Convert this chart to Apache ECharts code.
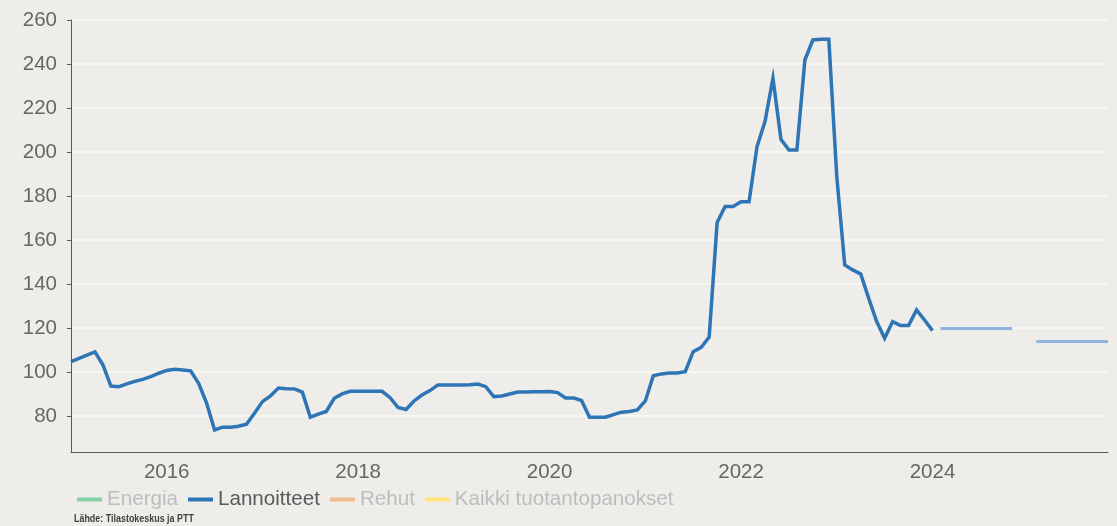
<!DOCTYPE html>
<html>
<head>
<meta charset="utf-8">
<script src="https://cdn.jsdelivr.net/npm/echarts@6/dist/echarts.min.js"></script>
<style>
  html, body { margin: 0; padding: 0; background: #eeedea; }
  #chart { width: 1117px; height: 526px; }
</style>
</head>
<body>
<div id="chart"></div>
<script>
// Monthly index values for "Lannoitteet", starting January 2015 (month index 0)
const startYear = 2015;
const lannoitteetValues = [
  104.7, 106.2, 107.6, 109.1, 103.2, 93.6, 93.3, 94.6, 95.7, 96.6, 97.9, 99.4,
  100.7, 101.2, 100.9, 100.5, 94.8, 85.8, 73.6, 74.9, 74.9, 75.3, 76.2, 81.2,
  86.5, 89.1, 92.7, 92.4, 92.3, 90.8, 79.4, 80.8, 82.0, 88.0, 90.0, 91.2,
  91.2, 91.2, 91.2, 91.2, 88.3, 83.8, 82.9, 86.8, 89.5, 91.5, 94.1, 94.1,
  94.1, 94.1, 94.2, 94.5, 93.3, 88.8, 89.1, 90.0, 90.9, 90.9, 91.0, 91.0,
  91.1, 90.6, 88.2, 88.2, 87.0, 79.4, 79.4, 79.4, 80.6, 81.7, 82.0, 82.7,
  86.8, 98.3, 99.1, 99.5, 99.5, 100.1, 109.2, 111.2, 115.8, 167.9, 175.2, 175.2,
  177.4, 177.4, 202.4, 213.8, 233.5, 205.8, 200.9, 200.9, 241.8, 250.9, 251.2, 251.2,
  188.8, 148.6, 146.4, 144.5, 133.5, 122.9, 115.3, 122.9, 121.1, 121.1, 128.2, 123.6,
  118.8
];
// Forecast segments (month index of first point, monthly values)
const forecast2024Start = 109;
const forecast2024Values = [119.7, 119.7, 119.7, 119.7, 119.7, 119.7, 119.7, 119.7, 119.7, 119.7];
const forecast2025Start = 121;
const forecast2025Values = [113.8, 113.8, 113.8, 113.8, 113.8, 113.8, 113.8, 113.8, 113.8, 113.8];

const yTicks = [80, 100, 120, 140, 160, 180, 200, 220, 240, 260];
const xTickYears = [2016, 2018, 2020, 2022, 2024];
const legendNames = ['Energia', 'Lannoitteet', 'Rehut', 'Kaikki tuotantopanokset'];

const toPairs = (start, arr) => arr.map((v, i) => [start + i, v]);
const yearToMonth = y => (y - startYear) * 12;

const chart = echarts.init(document.getElementById('chart'), null, { renderer: 'canvas' });
const fontFam = '"Liberation Sans", Arial, sans-serif';
const inactiveText = '#bdbdbd';

chart.setOption({
  backgroundColor: '#eeedea',
  animation: false,
  grid: { left: 71, right: 9, top: 20, bottom: 74, containLabel: false },
  xAxis: {
    type: 'value',
    min: 0,
    max: 130,
    axisLine: { show: true, lineStyle: { color: '#595959', width: 1 } },
    axisTick: { show: false },
    splitLine: { show: false },
    axisLabel: {
      customValues: xTickYears.map(yearToMonth),
      formatter: v => String(startYear + Math.round(v / 12)),
      color: '#666666',
      fontSize: 20.5,
      fontFamily: fontFam,
      margin: 10
    }
  },
  yAxis: {
    type: 'value',
    min: 63.6,
    max: 260,
    axisLine: { show: true, lineStyle: { color: '#595959', width: 1 } },
    axisTick: { show: true, length: 4, customValues: yTicks, lineStyle: { color: '#595959' } },
    splitLine: { show: true, lineStyle: { color: '#f8f8f6', width: 1.5 } },
    axisLabel: {
      customValues: yTicks,
      color: '#666666',
      fontSize: 20.5,
      fontFamily: fontFam,
      margin: 14
    }
  },
  legend: {
    left: 72,
    top: 484,
    itemWidth: 25,
    itemHeight: 4,
    itemGap: 10,
    icon: 'rect',
    selectedMode: false,
    textStyle: { fontSize: 20.6, fontFamily: fontFam, color: inactiveText },
    data: [
      { name: legendNames[0], textStyle: { color: inactiveText } },
      { name: legendNames[1], textStyle: { color: '#595959' } },
      { name: legendNames[2], textStyle: { color: inactiveText } },
      { name: legendNames[3], textStyle: { color: inactiveText } }
    ]
  },
  graphic: [{
    type: 'text',
    x: 74,
    y: 514,
    scaleX: 0.85,
    style: {
      text: 'Lähde: Tilastokeskus ja PTT',
      fill: '#404040',
      font: 'bold 10.5px "Liberation Sans", Arial, sans-serif'
    }
  }],
  series: [
    { name: legendNames[0], type: 'line', data: [], color: '#86d0aa', showSymbol: false },
    {
      name: legendNames[1], type: 'line', color: '#2e75b6',
      data: toPairs(0, lannoitteetValues),
      showSymbol: false, symbol: 'none',
      lineStyle: { width: 3.5, color: '#2e75b6', join: 'miter' }
    },
    { name: legendNames[2], type: 'line', data: [], color: '#f0bc8e', showSymbol: false },
    { name: legendNames[3], type: 'line', data: [], color: '#ffe57a', showSymbol: false },
    {
      name: 'Ennuste 2024', type: 'line', symbol: 'none',
      data: toPairs(forecast2024Start, forecast2024Values),
      lineStyle: { width: 3, color: '#8fb4df' }
    },
    {
      name: 'Ennuste 2025', type: 'line', symbol: 'none',
      data: toPairs(forecast2025Start, forecast2025Values),
      lineStyle: { width: 3, color: '#8fb4df' }
    }
  ]
});
</script>
</body>
</html>
